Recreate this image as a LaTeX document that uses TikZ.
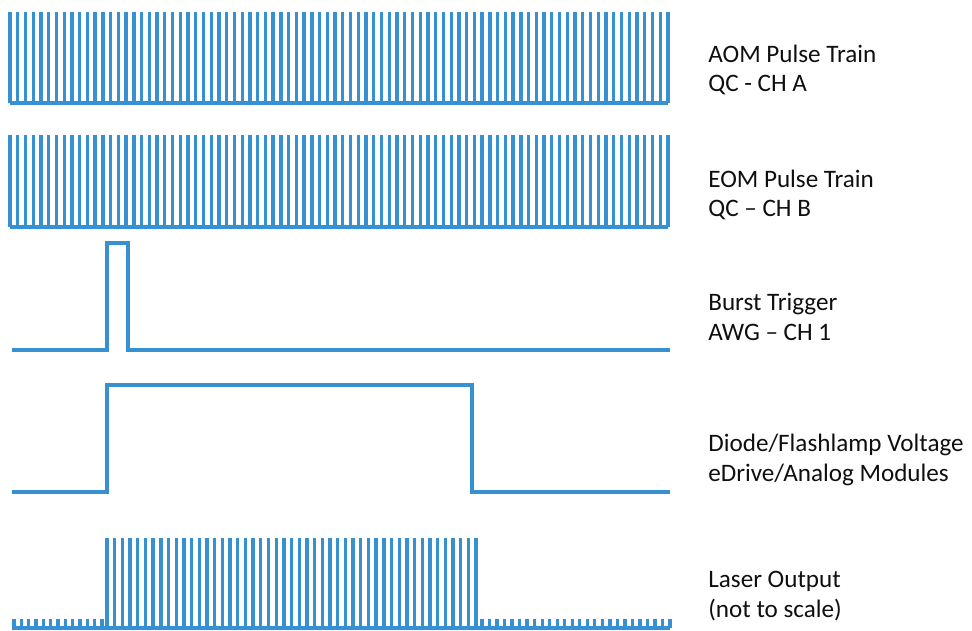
\documentclass[tikz,border=0pt]{standalone}
\usepackage{fontspec}
\setmainfont{Carlito}
\definecolor{trace}{RGB}{55,145,208}
\definecolor{ink}{RGB}{15,15,15}
\usetikzlibrary{positioning}
\tikzset{
  wave/.style={draw=trace, line width=1.9pt, line join=miter},
  lbl/.style={anchor=west, align=left, text=ink, inner sep=0pt,
              font=\fontsize{14.3}{16.6}\selectfont},
}
\begin{document}
\begin{tikzpicture}[x=0.02cm,y=-0.02cm]
    \useasboundingbox (0,0) rectangle (972,630);
    % --- row 1: AOM pulse train ---
    \draw[wave] (10,103) -- (668,103);
    \foreach \i in {0,...,85}
      \draw[wave] ({10+\i*7.74},103) -- ++(0,-91);
    \node[lbl] (aom) at (708,70) {AOM Pulse Train\\QC - CH A};
    % --- row 2: EOM pulse train ---
    \draw[wave] (10,227) -- (668,227);
    \foreach \i in {0,...,85}
      \draw[wave] ({10+\i*7.74},227) -- ++(0,-92);
    \node[lbl] (eom) at (708,195) {EOM Pulse Train\\QC -- CH B};
    % --- row 3: burst trigger ---
    \draw[wave] (12,350) -- (107,350) -- (107,243) -- (128,243) -- (128,350) -- (670,350);
    \node[lbl] (burst) at (708,317) {Burst Trigger\\AWG -- CH 1};
    % --- row 4: diode / flashlamp voltage ---
    \draw[wave] (12,492) -- (107,492) -- (107,385) -- (472,385) -- (472,492) -- (670,492);
    \node[lbl] (diode) at (708,460) {Diode/Flashlamp Voltage\\eDrive/Analog Modules};
    % --- row 5: laser output ---
    \draw[wave] (12,628) -- (670,628);
    \foreach \i in {0,...,12}
      \draw[wave] ({14+\i*7.33},628) -- ++(0,-9);
    \foreach \i in {0,...,48}
      \draw[wave] ({107+\i*7.69},628) -- ++(0,-90);
    \foreach \i in {0,...,25}
      \draw[wave] ({482+\i*7.52},628) -- ++(0,-9);
    \node[lbl] (laser) at (708,596) {Laser Output\\(not to scale)};
\end{tikzpicture}
\end{document}
